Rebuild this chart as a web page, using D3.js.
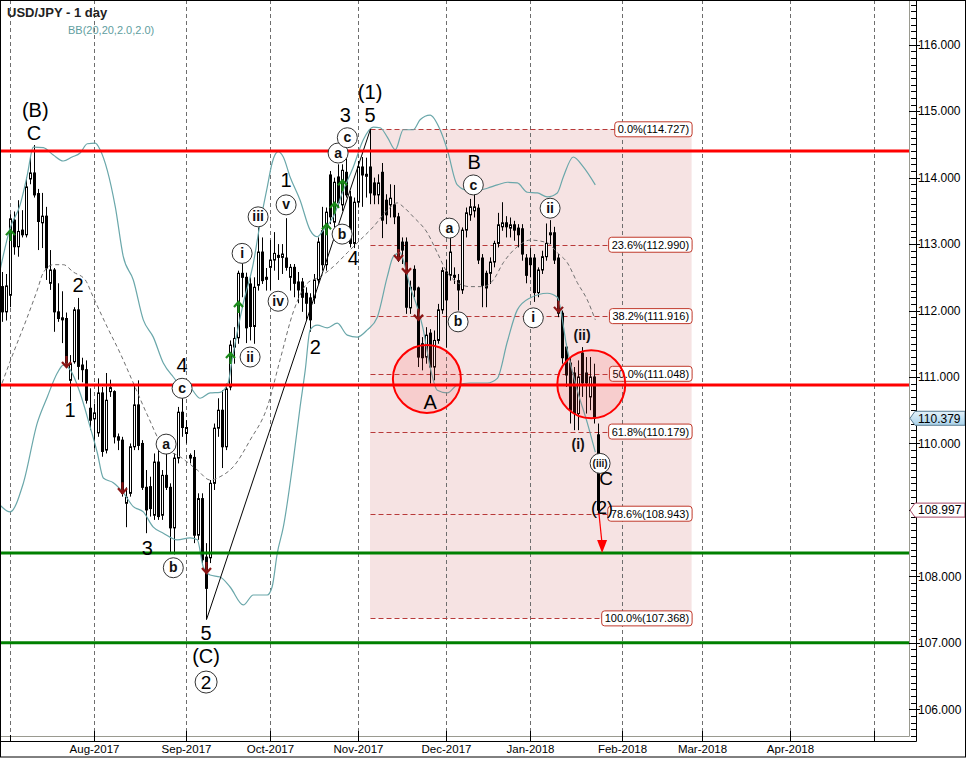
<!DOCTYPE html>
<html><head><meta charset="utf-8">
<script src="https://cdnjs.cloudflare.com/ajax/libs/d3/7.8.5/d3.min.js"></script>
<style>body{margin:0;background:#fff}svg{display:block}text{font-family:"Liberation Sans",Arial,sans-serif}</style>
</head><body>
<script>
// ---------- DATA ----------
const opens=[112.36,111.98,112.23,113.36,112.96,113.21,113.14,113.98,114.07,113.76,
113.32,113.42,112.41,112.61,111.98,111.89,111.88,110.95,111.23,112.01,
111.18,111.11,110.53,110.37,110.16,110.76,109.90,110.78,110.78,110.10,
110.05,109.10,109.25,109.95,110.58,110.00,109.34,109.35,108.92,109.72,
108.92,109.52,109.34,108.73,109.78,110.47,110.15,109.82,109.79,108.62,
109.17,108.29,108.28,109.40,110.23,110.50,109.95,110.85,111.45,111.59,
112.56,112.50,112.40,111.76,112.38,112.88,112.50,112.65,112.76,112.83,
112.80,112.79,112.50,112.65,112.43,112.43,112.26,112.19,112.19,112.46,
113.20,112.69,114.04,113.33,114.01,113.59,114.08,113.71,113.01,113.63,
114.16,114.02,114.16,113.92,113.74,114.08,113.66,113.59,113.59,113.41,
113.03,113.03,112.04,112.62,112.34,111.50,111.30,111.66,111.15,111.55,
112.01,112.58,112.53,112.53,112.45,112.31,113.21,113.44,113.50,113.54,
112.79,112.56,112.56,112.73,113.01,113.26,113.32,113.24,113.29,113.24,
113.23,112.79,112.79,112.79,112.27,112.61,112.81,113.14,113.17,112.79,
111.96,111.45,111.21,111.06,110.45,111.36,111.06,110.70,111.00,110.13];
const highs=[112.58,112.55,113.45,113.49,113.66,113.51,114.00,114.31,114.49,113.83,
113.77,113.56,112.91,112.64,112.41,112.29,111.97,111.33,112.05,112.19,
111.29,111.25,110.83,110.60,110.98,110.85,111.06,110.96,110.80,110.15,
110.10,109.34,110.00,110.88,110.95,110.05,109.60,109.50,109.85,109.90,
109.60,109.90,109.40,109.85,110.55,110.69,110.35,109.85,109.90,109.25,
109.25,108.50,109.45,110.30,110.68,110.80,110.90,111.55,111.75,112.60,
112.72,112.57,112.50,112.50,113.25,113.10,112.64,113.06,113.18,113.00,
113.00,113.39,112.70,112.70,112.58,112.49,112.35,112.26,112.55,113.10,
113.56,113.55,114.10,114.00,114.20,114.20,114.42,113.80,113.70,114.25,
114.31,114.30,114.73,114.00,114.05,114.22,113.75,113.90,113.89,113.47,
113.10,113.10,112.45,112.68,112.36,111.60,111.75,111.72,111.70,112.10,
112.65,112.76,113.10,112.65,112.55,113.25,113.55,113.68,113.77,113.60,
112.85,112.60,112.80,113.05,113.47,113.63,113.42,113.40,113.35,113.30,
113.30,112.85,112.94,112.85,112.65,112.90,113.31,113.36,113.26,112.85,
112.00,111.50,111.30,111.15,111.25,111.45,111.30,111.30,111.20,110.30];
const lows=[111.83,111.85,112.05,112.84,112.81,113.10,113.10,113.90,113.70,112.91,
112.94,112.46,112.31,111.68,111.83,111.51,111.15,110.63,111.20,110.96,
110.92,110.60,110.20,109.93,110.10,109.80,109.85,110.70,110.00,109.90,
109.20,108.74,109.20,109.90,109.90,109.30,108.65,108.90,108.85,108.85,
108.85,109.30,108.35,108.33,109.70,110.10,110.00,109.70,108.50,108.55,
108.20,107.35,108.20,109.30,110.10,109.63,109.90,110.80,111.20,111.50,
112.20,111.51,111.55,111.50,112.30,112.40,112.30,112.31,112.60,112.46,
112.55,112.60,112.30,112.20,112.11,111.98,111.86,111.68,112.10,112.40,
112.60,112.60,113.30,113.25,113.55,113.50,113.70,112.95,112.94,113.55,
113.56,113.70,113.60,113.60,113.60,113.09,113.30,113.40,113.30,112.73,
112.70,111.95,111.95,112.20,111.15,111.10,111.20,110.90,110.95,111.50,
111.95,111.44,112.45,112.40,112.00,112.25,113.10,113.35,113.40,112.70,
112.05,112.05,112.40,112.65,112.95,113.20,113.10,113.10,113.05,112.95,
112.75,112.41,112.50,112.13,112.20,112.55,112.75,113.00,112.70,111.90,
111.20,110.85,110.30,110.20,110.20,110.70,110.45,110.50,110.30,108.95];
const closes=[111.98,112.37,113.38,112.96,113.19,113.14,113.86,114.07,113.74,113.34,
113.42,112.64,112.61,111.98,111.88,111.86,111.21,111.20,112.01,111.16,
111.11,110.65,110.35,110.46,110.76,109.88,110.65,110.84,110.10,110.05,
109.25,109.19,109.95,110.58,109.97,109.34,109.00,109.02,109.72,108.90,
109.52,109.34,108.73,109.78,110.47,110.24,110.24,109.78,108.62,109.17,
108.25,107.82,109.40,110.23,110.50,109.95,110.82,111.48,111.58,112.56,
112.50,111.74,111.76,112.35,112.88,112.45,112.47,112.76,112.86,112.80,
112.85,112.65,112.65,112.41,112.31,112.20,112.11,111.86,112.46,113.03,
112.69,113.48,113.41,113.93,113.62,114.11,113.74,113.01,113.63,114.16,
114.04,114.05,113.77,113.74,113.92,113.36,113.44,113.69,113.41,112.76,
112.91,112.05,112.35,112.31,111.30,111.29,111.63,111.15,111.55,112.01,
112.60,112.16,112.88,112.50,112.31,113.21,113.47,113.56,113.56,112.76,
112.38,112.34,112.73,113.01,113.29,113.32,113.26,113.29,113.21,113.14,
112.85,112.53,112.69,112.27,112.61,112.81,113.01,113.17,112.76,111.96,
111.29,111.03,110.50,110.45,111.00,110.91,110.91,111.00,110.38,108.997];

// Bollinger bands (bar index, price)
const bbUpperIdx=[-0.6,1.9,4.4,6.2,7.7,10.2,12.7,15.2,17.4,19.4,21.2,23.2,24.4,26.2,28.2,30.2,32.7,35.2,37.7,40.2,42.7,44.9,46.9,49.4,51.9,54.4,56.4,57.4,60.2,62.7,64.4,66.2,67.4,68.9,70.2,71.9,74.4,76.9,78.7,80.2,82.7,85.2,87.7,90.2,92.7,94.4,96.2,98.2,100.2,102.7,104.4,106.9,109.4,111.2,113.7,116.2,118.7,121.2,123.7,126.2,128.7,131.2,133.7,136.2,138.7,140.2,142.7,145.2,148.2];
const bbUpper=[112.61,113.24,113.59,114.04,114.46,114.45,114.34,114.25,114.31,114.37,114.51,114.52,114.42,114.11,113.56,112.81,112.46,111.86,111.60,111.21,111.00,110.85,110.83,110.68,110.76,110.77,110.91,111.26,112.11,112.71,113.31,113.86,114.22,114.39,114.31,114.01,113.66,113.21,113.11,113.21,113.41,113.81,114.16,114.57,114.76,114.75,114.61,114.42,114.72,114.72,114.87,114.94,114.72,114.42,113.89,113.81,113.81,113.84,113.89,113.93,113.92,113.78,113.77,113.71,113.77,114.01,114.31,114.16,113.89];
const bbMiddleIdx=[-0.1,2.7,6.2,8.7,10.2,12.7,15.2,17.7,20.7,22.7,26.2,29.4,32.7,36.2,40.2,44.4,48.7,51.9,54.4,57.7,61.9,66.2,69.4,72.7,76.2,79.4,82.7,86.2,89.4,92.7,96.2,98.7,100.2,102.7,106.2,108.7,111.2,113.7,116.9,120.2,122.7,125.2,128.7,131.9,136.2,138.7,141.2,143.7,146.2,148.2];
const bbMiddle=[110.91,111.36,111.90,112.31,112.57,112.69,112.69,112.58,112.46,112.20,111.75,111.36,110.91,110.43,109.95,109.80,109.60,109.45,109.50,109.65,110.05,110.55,111.26,111.98,112.41,112.51,112.66,112.87,113.06,113.26,113.51,113.62,113.56,113.41,113.17,112.87,112.57,112.42,112.36,112.36,112.46,112.72,112.96,113.06,113.02,112.87,112.72,112.42,112.16,111.86];
const bbLowerIdx=[-0.6,1.9,5.2,8.7,11.2,13.7,15.2,16.9,19.4,21.9,23.7,25.2,27.7,30.2,32.7,35.2,37.7,40.2,43.7,46.9,48.7,50.2,51.9,54.4,56.9,60.2,62.7,66.2,67.4,68.7,70.2,72.7,74.4,75.7,76.9,78.7,81.2,83.7,86.2,88.7,91.2,93.7,96.2,97.7,99.4,100.2,101.9,103.7,105.2,106.9,108.7,111.2,113.7,116.9,121.2,123.7,126.2,128.7,131.9,136.2,138.7,141.2,143.7,146.2,148.2];
const bbLower=[109.07,108.97,109.40,110.31,110.70,111.06,111.18,111.11,110.76,110.25,109.86,109.48,109.41,109.26,109.05,108.97,108.74,108.65,108.55,108.58,108.55,108.14,108.02,107.99,107.84,107.57,107.72,107.72,107.84,108.35,108.74,109.75,110.55,111.11,111.71,111.78,111.74,111.81,111.63,111.60,111.71,111.90,112.51,112.81,112.87,112.76,112.36,112.05,111.71,111.15,110.80,110.76,110.88,110.91,110.91,110.98,111.53,112.01,112.19,112.26,112.20,111.41,110.80,110.31,109.87];

// Axis ticks
const monthTickIdx=[2,23,46,67,89,111,132,155,175,197,218];
const monthLabels=["","Aug-2017","Sep-2017","Oct-2017","Nov-2017","Dec-2017","Jan-2018","Feb-2018","Mar-2018","Apr-2018",""];
const priceTicks=[106,107,108,109,110,111,112,113,114,115,116];

// Fibonacci retracement
const fibPct=["0.0%","23.6%","38.2%","50.0%","61.8%","78.6%","100.0%"];
const fibVal=[114.727,112.990,111.916,111.048,110.179,108.943,107.368];
const fibStartIdx=92, fibEndIdx=172.4;

// Support / resistance lines
const resistance=[114.40,110.88];
const support=[108.35,107.00];

// Price tags
const prevClose=110.379, lastClose=108.997;

// Wave labels (plain, large)
const bigText=["(B)","C","2","1","4","3","5","(C)","1","2","3","4","(1)","5","B","A","C","(2)"];
const bigIdx=[8.2,7.9,18.9,16.9,44.9,36.2,50.9,50.9,70.9,78.2,85.7,87.7,91.9,91.9,117.9,106.9,150.9,149.9];
const bigPrice=[115.02,114.67,112.38,110.50,111.18,108.43,107.15,106.80,113.96,111.45,114.94,112.79,115.29,114.94,114.24,110.62,109.48,109.04];
const bigSize=[20,20,20,20,20,20,20,20,20,20,20,20,20,20,20,20,19,18];

// Circled wave labels
const circText=["a","b","c","i","ii","iii","iv","v","a","c","b","c","a","b","ii","i","(iii)"];
const circIdx=[40.9,42.7,44.9,59.9,61.9,63.9,68.9,70.9,83.9,86.2,84.9,117.7,111.7,113.9,136.9,132.7,149.4];
const circPrice=[109.99,108.13,110.83,112.86,111.30,113.41,112.14,113.59,114.37,114.60,113.15,113.89,113.24,111.83,113.54,111.89,109.70];

// Parenthesised labels
const parenText=["(ii)","(i)"];
const parenIdx=[144.9,143.9];
const parenPrice=[111.63,109.99];

// Circled big "2"
const ring2Idx=50.9, ring2Price=106.41;

// Signal arrows (tip price)
const upArrowIdx=[2,57,59,81,83,85];
const upArrowPrice=[113.21,111.36,112.13,113.30,113.62,113.96];
const downArrowIdx=[16,30,51,99,101,104,139];
const downArrowPrice=[111.15,109.25,108.05,112.76,112.56,111.86,111.98];

// Red circles
const ringIdx=[106.1,147.2];
const ringPrice=[110.97,110.89];

// Wave (1) line and projection arrow
const waveLineIdx=[51,92], waveLinePrice=[107.35,114.73];
const projIdx=[149.1,149.9], projPrice=[108.95,108.35];

// ---------- CHART ----------
const W=967,H=758,plotR=909,plotB=736,axisX=916,axisY=741;
const x=d3.scaleLinear().domain([0,1]).range([2.5,6.5]);
const y=d3.scaleLinear().domain([106,116]).range([709.3,44.7]);

const svg=d3.select("body").append("svg").attr("width",W).attr("height",H);
const defs=svg.append("defs");
defs.append("clipPath").attr("id","clip").append("rect").attr("x",0).attr("y",0).attr("width",plotR).attr("height",plotB);
const gr=defs.append("linearGradient").attr("id","blueTag").attr("x1",0).attr("y1",0).attr("x2",0).attr("y2",1);
gr.append("stop").attr("offset","0%").attr("stop-color","#e4f2fb");
gr.append("stop").attr("offset","100%").attr("stop-color","#a9d2ea");

svg.append("rect").attr("width",W).attr("height",H).attr("fill","#fff");
const g=svg.append("g").attr("clip-path","url(#clip)");

// fib box
g.append("rect").attr("x",x(fibStartIdx)-0.5).attr("y",y(fibVal[0]))
 .attr("width",x(fibEndIdx)-x(fibStartIdx)).attr("height",y(fibVal[6])-y(fibVal[0]))
 .attr("fill","#f6e3e3");

// vertical grid
g.selectAll(".grid").data(monthTickIdx).join("line")
 .attr("x1",d=>x(d)).attr("x2",d=>x(d)).attr("y1",0).attr("y2",plotB)
 .attr("stroke","#6e6e6e").attr("stroke-dasharray","4,3").attr("stroke-width",1);

// fib lines
g.selectAll(".fib").data(fibVal).join("line")
 .attr("x1",x(fibStartIdx)).attr("x2",x(fibEndIdx)).attr("y1",d=>Math.round(y(d))+0.5).attr("y2",d=>Math.round(y(d))+0.5)
 .attr("stroke","#b83a3a").attr("stroke-dasharray","5,3").attr("stroke-width",1);

// candles
const cg=svg.append("g").attr("clip-path","url(#clip)");
const idx=d3.range(opens.length);
cg.selectAll(".wick").data(idx).join("line")
 .attr("x1",i=>x(i)).attr("x2",i=>x(i)).attr("y1",i=>y(highs[i])).attr("y2",i=>y(lows[i]))
 .attr("stroke","#000").attr("stroke-width",1);
cg.selectAll(".body").data(idx).join("rect")
 .attr("x",i=>x(i)-1).attr("width",2)
 .attr("y",i=>y(Math.max(opens[i],closes[i])))
 .attr("height",i=>Math.max(1,Math.abs(y(opens[i])-y(closes[i]))))
 .attr("fill",i=>closes[i]<opens[i]?"#000":"#fff").attr("stroke","#000").attr("stroke-width",1);

// bollinger bands
const bg=svg.append("g").attr("clip-path","url(#clip)");
const ln=d3.line().x(d=>x(d[0])).y(d=>y(d[1])).curve(d3.curveMonotoneX);
bg.append("path").attr("d",ln(bbUpperIdx.map((k,i)=>[k,bbUpper[i]]))).attr("fill","none").attr("stroke","#6aa7aa").attr("stroke-width",1.2);
bg.append("path").attr("d",ln(bbLowerIdx.map((k,i)=>[k,bbLower[i]]))).attr("fill","none").attr("stroke","#6aa7aa").attr("stroke-width",1.2);
bg.append("path").attr("d",ln(bbMiddleIdx.map((k,i)=>[k,bbMiddle[i]]))).attr("fill","none").attr("stroke","#707070").attr("stroke-dasharray","4,3").attr("stroke-width",1);

// wave line
bg.append("line").attr("x1",x(waveLineIdx[0])).attr("y1",y(waveLinePrice[0])).attr("x2",x(waveLineIdx[1])).attr("y2",y(waveLinePrice[1]))
 .attr("stroke","#000").attr("stroke-width",1);

// fib labels
const fl=svg.append("g");
fibVal.forEach((v,i)=>{
  const t=fl.append("text").attr("x",x(fibEndIdx)-3).attr("y",y(v)).attr("dy","0.36em").attr("text-anchor","end")
   .attr("font-size",11).attr("fill","#000").text(fibPct[i]+"("+v.toFixed(3)+")");
  const w=t.node().getComputedTextLength();
  fl.insert("rect","text").attr("x",x(fibEndIdx)-w-6).attr("y",y(v)-7.5).attr("width",w+6).attr("height",15)
   .attr("rx",3).attr("fill","#fff").attr("stroke","#c0392b").attr("stroke-width",1);
});

// red circles
const rg=svg.append("g").attr("clip-path","url(#clip)");
rg.selectAll(".ring").data(ringIdx).join("circle")
 .attr("cx",d=>x(d)).attr("cy",(d,i)=>y(ringPrice[i])).attr("r",34)
 .attr("fill","rgba(255,60,60,0.13)").attr("stroke","#ff0000").attr("stroke-width",2);

// circled labels (rings)
const cl=svg.append("g").attr("clip-path","url(#clip)");
circText.forEach((t,i)=>{
  cl.append("circle").attr("cx",x(circIdx[i])).attr("cy",y(circPrice[i])).attr("r",10)
    .attr("fill","#fff").attr("stroke","#333").attr("stroke-width",1);
});
cl.append("circle").attr("cx",x(ring2Idx)).attr("cy",y(ring2Price)).attr("r",11).attr("fill","#fff").attr("stroke","#333");

// S/R lines
rg.selectAll(".res").data(resistance).join("line")
 .attr("x1",0).attr("x2",plotR).attr("y1",d=>y(d)).attr("y2",d=>y(d)).attr("stroke","#ff0000").attr("stroke-width",3);
rg.selectAll(".sup").data(support).join("line")
 .attr("x1",0).attr("x2",plotR).attr("y1",d=>y(d)).attr("y2",d=>y(d)).attr("stroke","#008000").attr("stroke-width",3);

// circled texts
const tl=svg.append("g").attr("clip-path","url(#clip)");
circText.forEach((t,i)=>{
  tl.append("text").attr("x",x(circIdx[i])).attr("y",y(circPrice[i])).attr("dy","0.33em").attr("text-anchor","middle")
    .attr("font-family","'Liberation Serif','Times New Roman',serif").attr("font-weight","bold")
    .attr("font-size",t.length>3?10:14).attr("fill","#111").text(t);
});
parenText.forEach((t,i)=>{
  tl.append("text").attr("x",x(parenIdx[i])).attr("y",y(parenPrice[i])).attr("dy","0.33em").attr("text-anchor","middle")
    .attr("font-family","'Liberation Serif','Times New Roman',serif").attr("font-weight","bold")
    .attr("font-size",14).attr("fill","#111").text(t);
});
tl.append("text").attr("x",x(ring2Idx)).attr("y",y(ring2Price)).attr("dy","0.36em").attr("text-anchor","middle")
  .attr("font-size",19).attr("fill","#000").text("2");

// big labels
bigText.forEach((t,i)=>{
  tl.append("text").attr("x",x(bigIdx[i])).attr("y",y(bigPrice[i])).attr("dy","0.36em").attr("text-anchor","middle")
    .attr("font-size",bigSize[i]).attr("fill","#000").text(t);
});

// arrows
const ar=svg.append("g").attr("clip-path","url(#clip)");
upArrowIdx.forEach((k,i)=>{
  const cx=x(k), ty=y(upArrowPrice[i]);
  ar.append("path").attr("d",`M${cx},${ty+11}L${cx},${ty+1}M${cx-4.5},${ty+5}L${cx},${ty}L${cx+4.5},${ty+5}`)
    .attr("fill","none").attr("stroke","#1a8a1a").attr("stroke-width",2.2);
});
downArrowIdx.forEach((k,i)=>{
  const cx=x(k), ty=y(downArrowPrice[i]);
  ar.append("path").attr("d",`M${cx},${ty-11}L${cx},${ty-1}M${cx-4.5},${ty-5}L${cx},${ty}L${cx+4.5},${ty-5}`)
    .attr("fill","none").attr("stroke","#8b1515").attr("stroke-width",2.2);
});
// projection arrow
{
  const x1=x(projIdx[0]),y1=y(projPrice[0]),x2=x(projIdx[1]),y2=y(projPrice[1]);
  ar.append("line").attr("x1",x1).attr("y1",y1).attr("x2",x2-0.3).attr("y2",y2-12).attr("stroke","#ff0000").attr("stroke-width",1.2);
  ar.append("path").attr("d",`M${x2},${y2}L${x2-5},${y2-13}L${x2+5},${y2-13}Z`).attr("fill","#ff0000");
}

// ---------- AXES ----------
const ax=svg.append("g");
ax.append("line").attr("x1",plotR+0.5).attr("x2",plotR+0.5).attr("y1",0).attr("y2",plotB+0.5).attr("stroke","#9a9a90");
ax.append("line").attr("x1",0).attr("x2",plotR+0.5).attr("y1",plotB+0.5).attr("y2",plotB+0.5).attr("stroke","#9a9a90");
ax.append("line").attr("x1",axisX+0.5).attr("x2",axisX+0.5).attr("y1",0).attr("y2",axisY+0.5).attr("stroke","#000");
ax.append("line").attr("x1",0).attr("x2",axisX+0.5).attr("y1",axisY+0.5).attr("y2",axisY+0.5).attr("stroke","#000");

// y ticks
const minor=d3.range(1056,1167).map(v=>v/10);
ax.selectAll(".mt").data(minor).join("line")
 .attr("x1",axisX-5).attr("x2",axisX).attr("y1",d=>Math.round(y(d))+0.5).attr("y2",d=>Math.round(y(d))+0.5).attr("stroke","#000");
ax.selectAll(".Mt").data(priceTicks).join("line")
 .attr("x1",axisX-7).attr("x2",axisX+4).attr("y1",d=>Math.round(y(d))+0.5).attr("y2",d=>Math.round(y(d))+0.5).attr("stroke","#000");
ax.selectAll(".yl").data(priceTicks).join("text")
 .attr("x",axisX+2).attr("y",d=>y(d)).attr("dy","0.36em").attr("font-size",12).attr("fill","#000")
 .text(d=>d3.format(".3f")(d));

// x ticks
ax.selectAll(".xt").data(monthTickIdx).join("line")
 .attr("x1",d=>x(d)).attr("x2",d=>x(d)).attr("y1",(d,i)=>i===0?735:731).attr("y2",axisY).attr("stroke","#000");
ax.selectAll(".xl").data(monthTickIdx).join("text")
 .attr("x",d=>x(d)).attr("y",753).attr("text-anchor","middle").attr("font-size",11.5).attr("fill","#000")
 .text((d,i)=>monthLabels[i]);

// price tags
function tag(v,fill,stroke){
  const cy=y(v);
  ax.append("path").attr("d",`M${plotR+1},${cy}L${plotR+6},${cy-7}L${W-2},${cy-7}L${W-2},${cy+7}L${plotR+6},${cy+7}Z`)
    .attr("fill",fill).attr("stroke",stroke).attr("stroke-width",1);
  ax.append("text").attr("x",axisX+2).attr("y",cy).attr("dy","0.36em").attr("font-size",12).attr("fill","#000").text(v.toFixed(3));
}
tag(prevClose,"url(#blueTag)","#5b7d93");
tag(lastClose,"#ffffff","#a84a68");

// title & legend
svg.append("text").attr("x",7).attr("y",17).attr("font-size",13).attr("font-weight","bold").attr("fill","#222").text("USD/JPY - 1 day");
svg.append("text").attr("x",68).attr("y",34).attr("font-size",11).attr("fill","#5f9ea0").text("BB(20,20,2.0,2.0)");

// outer frame
svg.append("rect").attr("x",0.5).attr("y",0.5).attr("width",W-2).attr("height",H-1.5).attr("fill","none").attr("stroke","#000");
</script>
</body></html>
